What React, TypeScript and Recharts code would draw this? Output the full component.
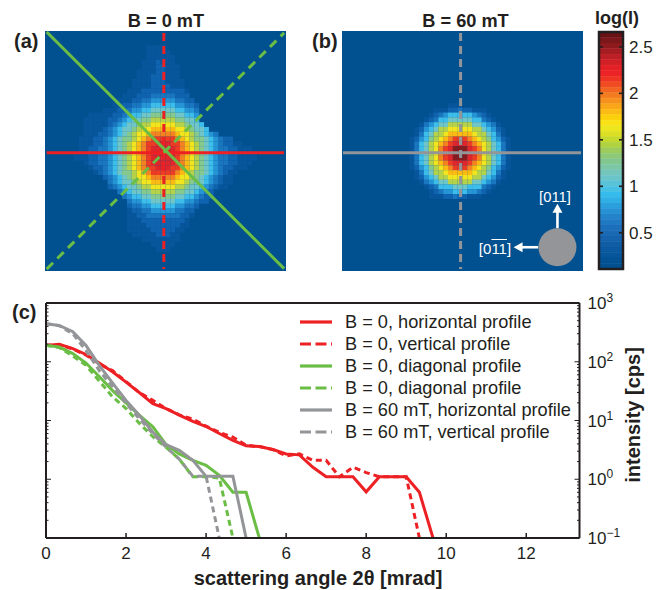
import React from 'react';
import {
  ComposedChart,
  LineChart,
  Line,
  Scatter,
  ScatterChart,
  XAxis,
  YAxis,
  ReferenceArea,
  Legend,
} from 'recharts';

const FONT = '"Liberation Sans", Arial, sans-serif';
const INK = '#231f20';
const RED = '#ed2024';
const GREEN = '#6abd45';
const GRAY = '#939598';
const MAP_BG = '#01508f';

// heat map colour per level character
const levelColors: Record<string, string> = {
  '1': '#07569c',
  '2': '#1063ae',
  '3': '#1b76c0',
  '4': '#2695d6',
  '5': '#3dbde9',
  '6': '#6fc5c8',
  '7': '#86c98f',
  '8': '#b5d24a',
  '9': '#f2e51d',
  a: '#fdba12',
  b: '#f58220',
  c: '#ee3b24',
  d: '#e0262a',
  e: '#8b1a1c',
};

// [row, first column, levels] on the 50 x 50 detector grid
const mapA: [number, number, string][] = [
  [3, 21, '1111'],
  [4, 21, '11111'],
  [5, 21, '111111'],
  [6, 20, '1112111'],
  [7, 20, '11122111'],
  [8, 19, '111122111'],
  [9, 19, '111222111'],
  [10, 18, '11112221111'],
  [11, 18, '11112222111'],
  [12, 17, '1112222222221'],
  [13, 16, '11122233333222'],
  [14, 15, '1112233444443322'],
  [15, 14, '112233445555544332'],
  [16, 12, '11122344556666655443'],
  [17, 9, '11111223455667777766554'],
  [18, 8, '111112234566778888877665'],
  [19, 8, '1111123456678899999887665'],
  [20, 8, '11112345667899aaaaa9987665'],
  [21, 8, '1112234567899abbbbba99876543'],
  [22, 7, '1112234567789abcccccba9877654322'],
  [23, 7, '111223456789abccdddccba98765432211'],
  [24, 7, '112233456789abcdddddcba9876543322111'],
  [25, 6, '1112233456789abcdddddcba98765433221111'],
  [26, 6, '1112233456789abcdddddcba98765433221111'],
  [27, 8, '12233456789abcdddddcba9876543322111'],
  [28, 9, '1223456789abccdddccba987654322111'],
  [29, 10, '1234567789abcccccba98776543211'],
  [30, 12, '234567899abbbbba99876543211'],
  [31, 13, '345667899aaaaa998766543211'],
  [32, 13, '2345667889999988766543211'],
  [33, 15, '34566778888877665432'],
  [34, 16, '3455667777766554322'],
  [35, 17, '34455666665544322'],
  [36, 17, '233445555544332'],
  [37, 17, '12233444443322'],
  [38, 17, '11223333333221'],
  [39, 17, '1112222222221'],
  [40, 17, '1111222222211'],
  [41, 17, '111112222211'],
  [42, 18, '1111122211'],
  [43, 20, '11111111'],
  [44, 22, '11111'],
  [45, 23, '111'],
];

const mapB: [number, number, string][] = [
  [15, 22, '111'],
  [16, 19, '11122322111'],
  [17, 18, '1234555554321'],
  [18, 17, '123556666655321'],
  [19, 16, '13456688888665431'],
  [20, 15, '1245688999998865421'],
  [21, 15, '1356889aaaaa9886531'],
  [22, 14, '1245789abcccba9875421'],
  [23, 14, '135689abcdddcba986531'],
  [24, 14, '135689bcdeeedcb986531'],
  [25, 14, '135689bcdeeedcb986531'],
  [26, 14, '135689bcdeeedcb986531'],
  [27, 14, '135689abcdddcba986531'],
  [28, 14, '1245789abcccba9875421'],
  [29, 15, '1356889aaaaa9886531'],
  [30, 15, '1245688999998865421'],
  [31, 16, '13456688888665431'],
  [32, 17, '123555666555321'],
  [33, 18, '1234455544321'],
  [34, 18, '11122322111'],
];

// colour bar bands, top (2.66) to bottom (0.11)
const barColors = [
  '#671316', '#7a171a', '#8f1a1e', '#a51d22', '#bc1f25', '#d22027', '#e32026', '#ec2327', '#ee3524',
  '#f04b23', '#f26422', '#f47c20', '#f6911e', '#f9a61a', '#fcbb14', '#fdd00e', '#f9e116', '#eee61f',
  '#dbe025', '#c5d92e', '#b0d23f', '#9dcc5c', '#8dc977', '#82c78f', '#7cc7a6', '#74c6ba', '#6ac5cb',
  '#5bc3d8', '#48c0e4', '#35bcec', '#2eb0e7', '#2aa0dd', '#2691d4', '#2384cc', '#1f79c3', '#1c6fbb',
  '#1969b4', '#1563ad', '#105da6', '#0b59a0', '#07559a', '#035294', '#01508f',
];
const barTop = 2.66;
const barBottom = 0.11;
const barStep = (barTop - barBottom) / barColors.length;
const barTicks = [0.5, 1, 1.5, 2, 2.5];
const barAnchors = [{ x: 0.5, y: 1.5 }];

// overlay lines in grid units
const solidDiagonal = [{ x: 0.35, y: 0.2 }, { x: 49.6, y: 49.5 }];
const dashedDiagonal = [{ x: 0.35, y: 49.6 }, { x: 49.6, y: 0.4 }];
const horizontalA = [{ x: 0.35, y: 25.35 }, { x: 49.6, y: 25.35 }];
const verticalA = [{ x: 24.65, y: 0.4 }, { x: 24.65, y: 49.6 }];
const horizontalB = [{ x: 0.2, y: 25.35 }, { x: 49.6, y: 25.35 }];
const verticalB = [{ x: 24.6, y: 0.4 }, { x: 24.6, y: 49.6 }];

const sampleDisc = [{ x: 44.7, y: 45.05 }];
const arrowUp = [{ x: 44.7, y: 41.1 }, { x: 44.7, y: 37.4 }];
const arrowLeft = [{ x: 40.7, y: 45.05 }, { x: 37, y: 45.05 }];
const arrowTips = [
  { x: 44.7, y: 36, dir: 'up' },
  { x: 35.6, y: 45.05, dir: 'left' },
];

// profiles, scattering angle in mrad and intensity in cps
const anglesRedSolid = [0, 0.33, 0.67, 1, 1.33, 1.67, 2, 2.33, 2.67, 3, 3.33, 3.67, 4, 4.33, 4.67, 5, 5.33, 5.67, 6, 6.33, 6.67, 7, 7.33, 7.67, 8, 8.33, 8.67, 9, 9.33, 9.67];
const redSolid = [190, 198, 167, 133, 95, 67, 45, 30, 19.4, 15.9, 12.3, 9.7, 7.9, 6, 4.6, 3.7, 3.6, 3.2, 2.7, 2.6, 1.6, 1.1, 1.1, 1.1, 0.61, 1.1, 1.1, 1.1, 0.6, 0.1];
const anglesRedDashed = [0, 0.33, 0.67, 1, 1.33, 1.67, 2, 2.33, 2.67, 3, 3.33, 3.67, 4, 4.33, 4.67, 5, 5.33, 5.67, 6, 6.33, 6.67, 7, 7.33, 7.67, 8, 8.33, 8.67, 9, 9.33];
const redDashed = [190, 195, 165, 130, 92, 70, 46, 30, 22, 16, 12.5, 10.5, 8, 6.3, 5.2, 3.8, 3.6, 3.2, 2.5, 2.7, 2.1, 2.1, 1.1, 1.6, 1.3, 1.1, 1.1, 1.1, 0.1];
const anglesGreenSolid = [0, 0.33, 0.67, 1, 1.33, 1.67, 2, 2.33, 2.67, 3, 3.33, 3.67, 4, 4.33, 4.67, 5, 5.33];
const greenSolid = [190, 178, 138, 95, 56, 32, 20, 12.3, 7.8, 3.9, 2.7, 2.1, 1.73, 1.17, 0.6, 0.6, 0.1];
const anglesGreenDashed = [0, 0.33, 0.67, 1, 1.33, 1.67, 2, 2.33, 2.67, 3, 3.33, 3.67, 4, 4.33, 4.67];
const greenDashed = [190, 175, 125, 87, 47, 25, 16, 9, 5.3, 3.5, 2.2, 1.1, 1.1, 1.05, 0.1];
const anglesGraySolid = [0, 0.33, 0.67, 1, 1.33, 1.67, 2, 2.33, 2.67, 3, 3.33, 3.67, 4, 4.33, 4.67, 5];
const graySolid = [445, 415, 325, 190, 87, 43, 22, 12.3, 6.3, 3.9, 3.1, 2.1, 1.12, 1.12, 1.12, 0.1];
const anglesGrayDashed = [0, 0.33, 0.67, 1, 1.33, 1.67, 2, 2.33, 2.67, 3, 3.33, 3.67, 4, 4.33];
const grayDashed = [445, 410, 300, 155, 71, 37, 19.6, 10.7, 6, 3.5, 2.2, 1.12, 1.12, 0.1];

const xTicks = [0, 2, 4, 6, 8, 10, 12];
const yMajor = [0.1, 1, 10, 100, 1000];
const yExponents: Record<number, string> = { 0.1: '\u22121', 1: '0', 10: '1', 100: '2', 1000: '3' };
const yMinor = [0.2, 0.3, 0.4, 0.5, 0.6, 0.7, 0.8, 0.9, 2, 3, 4, 5, 6, 7, 8, 9, 20, 30, 40, 50, 60, 70, 80, 90, 200, 300, 400, 500, 600, 700, 800, 900];

const zip = (xs: number[], ys: number[]) => ys.map((v, i) => ({ x: xs[i], v }));

const profiles = [
  { name: 'B = 0, horizontal profile', color: RED, dash: undefined, data: zip(anglesRedSolid, redSolid) },
  { name: 'B = 0, vertical profile', color: RED, dash: '6 4', data: zip(anglesRedDashed, redDashed) },
  { name: 'B = 0, diagonal profile', color: GREEN, dash: undefined, data: zip(anglesGreenSolid, greenSolid) },
  { name: 'B = 0, diagonal profile', color: GREEN, dash: '6 4', data: zip(anglesGreenDashed, greenDashed) },
  { name: 'B = 60 mT, horizontal profile', color: GRAY, dash: undefined, data: zip(anglesGraySolid, graySolid) },
  { name: 'B = 60 mT, vertical profile', color: GRAY, dash: '6 4', data: zip(anglesGrayDashed, grayDashed) },
];

const toCells = (rows: [number, number, string][]) => {
  const cells: { x: number; y: number; level: string }[] = [];
  rows.forEach(([row, start, levels]) => {
    levels.split('').forEach((level, i) => {
      cells.push({ x: start + i + 0.5, y: row + 0.5, level });
    });
  });
  return cells;
};

const CellShape = (props: any) => (
  <rect
    x={props.cx - 2.45}
    y={props.cy - 2.45}
    width={4.9}
    height={4.9}
    fill={levelColors[props.payload.level]}
  />
);
const NoShape = () => <g />;

const overlay = (pts: { x: number; y: number }[], color: string, dash?: string, width = 3) => (
  <Scatter
    data={pts}
    shape={NoShape}
    line={{ stroke: color, strokeWidth: width, strokeDasharray: dash, fill: 'none' }}
    isAnimationActive={false}
  />
);

const HeatMap = ({ rows, children }: { rows: [number, number, string][]; children?: React.ReactNode }) => (
  <ScatterChart width={241} height={240} margin={{ top: 0, right: 0, bottom: 0, left: 0 }}>
    <XAxis type="number" dataKey="x" domain={[0, 50]} hide />
    <YAxis type="number" dataKey="y" domain={[0, 50]} reversed hide />
    <ReferenceArea x1={0} x2={50} y1={0} y2={50} fill={MAP_BG} fillOpacity={1} stroke="none" />
    <Scatter data={toCells(rows)} shape={CellShape} isAnimationActive={false} />
    {children}
  </ScatterChart>
);

const BarTick = (props: any) => {
  const { x, y, payload } = props;
  return (
    <g>
      <line x1={x} x2={x - 4} y1={y} y2={y} stroke={INK} strokeWidth={1.6} />
      <line x1={x - 24} x2={x - 20} y1={y} y2={y} stroke={INK} strokeWidth={1.6} />
      <text x={x + 6} y={y + 6} fontSize={17} fontFamily={FONT} fill={INK}>
        {payload.value}
      </text>
    </g>
  );
};

const BottomTick = (props: any) => {
  const { x, y, payload } = props;
  return (
    <g>
      <line x1={x} x2={x} y1={y} y2={y - 5} stroke={INK} strokeWidth={1.5} />
      <text x={x} y={y + 21} textAnchor="middle" fontSize={17} fontFamily={FONT} fill={INK}>
        {payload.value}
      </text>
    </g>
  );
};

const TopTick = (props: any) => {
  const { x, y } = props;
  return <line x1={x} x2={x} y1={y} y2={y + 5} stroke={INK} strokeWidth={1.5} />;
};

const LeftTick = (props: any) => {
  const { x, y, payload } = props;
  const len = yMajor.includes(payload.value) ? 5 : 2.5;
  return <line x1={x} x2={x + len} y1={y} y2={y} stroke={INK} strokeWidth={1} />;
};

const RightTick = (props: any) => {
  const { x, y, payload } = props;
  const major = yMajor.includes(payload.value);
  return (
    <g>
      <line x1={x} x2={x - (major ? 5 : 2.5)} y1={y} y2={y} stroke={INK} strokeWidth={1} />
      {major && (
        <text x={x + 8} y={y + 6} fontSize={17} fontFamily={FONT} fill={INK}>
          10
          <tspan fontSize={12} dy={-7}>
            {yExponents[payload.value]}
          </tspan>
        </text>
      )}
    </g>
  );
};

const ProfileLegend = () => (
  <div style={{ fontFamily: FONT, fontSize: 18.2, color: INK, lineHeight: '22px', whiteSpace: 'nowrap' }}>
    {profiles.map((p, i) => (
      <div key={i} style={{ display: 'flex', alignItems: 'center', height: 22 }}>
        <svg width={45} height={22} style={{ flex: 'none' }}>
          <line x1={0} x2={32} y1={11} y2={11} stroke={p.color} strokeWidth={3.2} strokeDasharray={p.dash ? '11 4.5' : undefined} />
        </svg>
        <span>{p.name}</span>
      </div>
    ))}
  </div>
);

const label = (
  text: React.ReactNode,
  left: number,
  top: number,
  size: number,
  extra: React.CSSProperties = {},
) => (
  <div
    style={{
      position: 'absolute',
      left,
      top,
      fontFamily: FONT,
      fontSize: size,
      lineHeight: 1,
      color: INK,
      whiteSpace: 'nowrap',
      ...extra,
    }}
  >
    {text}
  </div>
);

const at = (left: number, top: number, child: React.ReactNode) => (
  <div style={{ position: 'absolute', left, top }}>{child}</div>
);

const App = () => (
  <div style={{ position: 'absolute', left: 0, top: 0, width: 665, height: 590, overflow: 'hidden', background: '#fff' }}>
    {at(
      45,
      31,
      <HeatMap rows={mapA}>
        {overlay(verticalA, RED, '8 5')}
        {overlay(horizontalA, RED)}
        {overlay(dashedDiagonal, GREEN, '9 6')}
        {overlay(solidDiagonal, GREEN)}
      </HeatMap>,
    )}
    {at(
      342,
      31,
      <HeatMap rows={mapB}>
        {overlay(verticalB, GRAY, '8 5')}
        {overlay(horizontalB, GRAY)}
        {overlay(arrowUp, '#fff', undefined, 2.6)}
        {overlay(arrowLeft, '#fff', undefined, 2.6)}
        <Scatter
          data={arrowTips}
          isAnimationActive={false}
          shape={(p: any) => (
            <polygon
              fill="#fff"
              points={
                p.payload.dir === 'up'
                  ? `${p.cx},${p.cy} ${p.cx - 5},${p.cy + 9} ${p.cx + 5},${p.cy + 9}`
                  : `${p.cx},${p.cy} ${p.cx + 9},${p.cy - 5} ${p.cx + 9},${p.cy + 5}`
              }
            />
          )}
        />
        <Scatter
          data={sampleDisc}
          isAnimationActive={false}
          shape={(p: any) => <circle cx={p.cx} cy={p.cy} r={19} fill={GRAY} />}
        />
      </HeatMap>,
    )}

    {at(
      590,
      25,
      <ComposedChart width={75} height={252} margin={{ top: 7, right: 12, bottom: 8, left: 9 }}>
        <XAxis type="number" dataKey="x" domain={[0, 1]} hide />
        <YAxis
          orientation="right"
          type="number"
          dataKey="y"
          domain={[barBottom, barTop]}
          ticks={barTicks}
          interval={0}
          width={30}
          axisLine={false}
          tickLine={false}
          tickSize={0}
          tickMargin={0}
          tick={<BarTick />}
        />
        {barColors.map((c, i) => (
          <ReferenceArea
            key={i}
            y1={barTop - barStep * (i + 1)}
            y2={barTop - barStep * i}
            fill={c}
            fillOpacity={1}
            stroke={c}
            strokeWidth={0.5}
          />
        ))}
        <ReferenceArea y1={barBottom} y2={barTop} fill="none" stroke={INK} strokeWidth={2.5} />
        <Scatter data={barAnchors} shape={NoShape} isAnimationActive={false} />
      </ComposedChart>,
    )}

    {at(
      0,
      290,
      <LineChart width={665} height={300} margin={{ top: 8, right: 26, bottom: 22, left: 26 }}>
        <XAxis
          xAxisId="bottom"
          type="number"
          dataKey="x"
          domain={[0, 13.33]}
          ticks={xTicks}
          interval={0}
          height={30}
          axisLine={{ stroke: INK, strokeWidth: 2 }}
          tickLine={false}
          tickSize={0}
          tickMargin={0}
          tick={<BottomTick />}
        />
        <XAxis
          xAxisId="top"
          orientation="top"
          type="number"
          domain={[0, 13.33]}
          ticks={xTicks.slice(1)}
          interval={0}
          height={5}
          axisLine={{ stroke: INK, strokeWidth: 2 }}
          tickLine={false}
          tickSize={0}
          tickMargin={0}
          tick={<TopTick />}
        />
        <YAxis
          yAxisId="right"
          orientation="right"
          type="number"
          scale="log"
          domain={[0.1, 1000]}
          allowDataOverflow
          ticks={[...yMajor, ...yMinor]}
          interval={0}
          width={59.5}
          axisLine={{ stroke: INK, strokeWidth: 2 }}
          tickLine={false}
          tickSize={0}
          tickMargin={0}
          tick={<RightTick />}
        />
        <YAxis
          yAxisId="left"
          orientation="left"
          type="number"
          scale="log"
          domain={[0.1, 1000]}
          allowDataOverflow
          ticks={[...yMajor, ...yMinor]}
          interval={0}
          width={20}
          axisLine={{ stroke: INK, strokeWidth: 2 }}
          tickLine={false}
          tickSize={0}
          tickMargin={0}
          tick={<LeftTick />}
        />
        {profiles.map((p, i) => (
          <Line
            key={i}
            xAxisId="bottom"
            yAxisId="right"
            data={p.data}
            dataKey="v"
            name={p.name}
            type="linear"
            stroke={p.color}
            strokeWidth={3}
            strokeDasharray={p.dash}
            dot={false}
            isAnimationActive={false}
          />
        ))}
        <Legend
          layout="horizontal"
          align="center"
          verticalAlign="middle"
          content={<ProfileLegend />}
          wrapperStyle={{ left: 300, top: 21, width: 290, height: 132 }}
        />
      </LineChart>,
    )}

    {label('B = 0 mT', 166, 12, 18.2, { fontWeight: 700, transform: 'translateX(-50%)' })}
    {label('B = 60 mT', 465.5, 12, 18.2, { fontWeight: 700, transform: 'translateX(-50%)' })}
    {label('log(I)', 617, 8.5, 18, { fontWeight: 700, transform: 'translateX(-50%)' })}
    {label('(a)', 14, 30.5, 20, { fontWeight: 700 })}
    {label('(b)', 312, 30.5, 20, { fontWeight: 700 })}
    {label('(c)', 12, 301.5, 20, { fontWeight: 700 })}
    {label('scattering angle 2\u03b8 [mrad]', 318, 568, 20, { fontWeight: 700, transform: 'translateX(-50%)' })}
    {label('intensity [cps]', 633, 415, 20, { fontWeight: 700, transform: 'translate(-50%, -50%) rotate(-90deg)' })}
    {label('[011]', 555, 190, 14.8, { color: '#fff', transform: 'translateX(-50%)' })}
    {label(
      <span>
        [0<span style={{ textDecoration: 'overline' }}>11</span>]
      </span>,
      495,
      241,
      15,
      { color: '#fff', transform: 'translateX(-50%)' },
    )}
  </div>
);

export default App;
